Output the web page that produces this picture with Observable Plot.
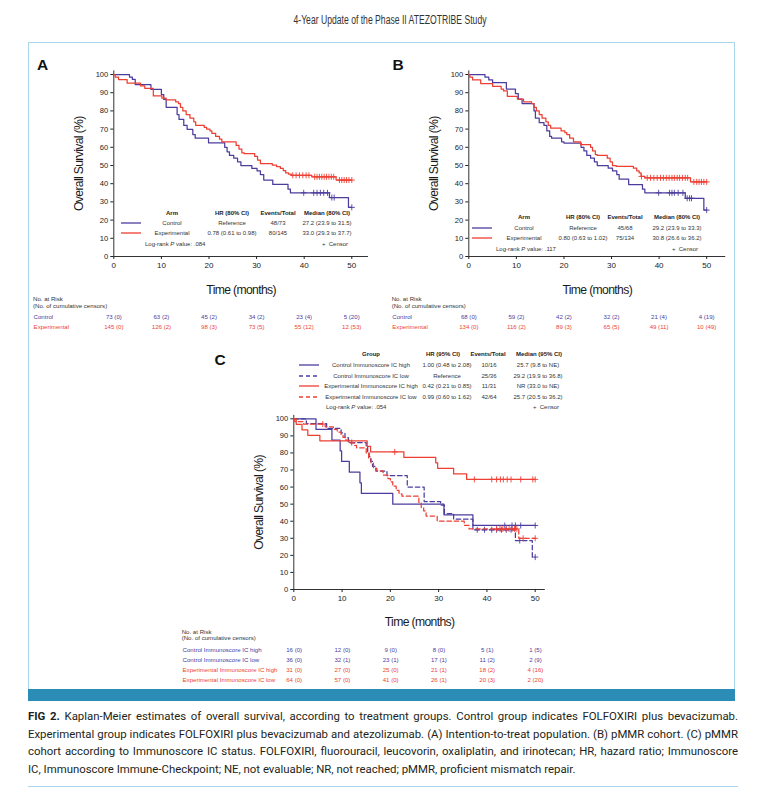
<!DOCTYPE html>
<html><head><meta charset="utf-8">
<script src="https://cdn.jsdelivr.net/npm/d3@7"></script>
<script src="https://cdn.jsdelivr.net/npm/@observablehq/plot@0.6"></script>
<style>
body{margin:0;background:#fff;}
#page{position:relative;width:780px;height:800px;overflow:hidden;font-family:"Liberation Sans",Arial,sans-serif;color:#222;}
.t{position:absolute;white-space:nowrap;line-height:1;}
.hdr{font-family:"Liberation Sans",Arial,sans-serif;font-weight:bold;font-size:6px;color:#222;}
.leg{font-size:6px;color:#333;}
.risk{font-size:6.1px;color:#333;}
.letter{font-weight:bold;font-size:15.5px;color:#111;font-family:"Liberation Sans",Arial,sans-serif;}
.title{font-family:"Liberation Sans",Arial,sans-serif;font-size:12px;color:#333;}
.caption{position:absolute;left:28px;width:710px;font-family:Roboto,"Noto Sans",sans-serif;font-size:11.4px;line-height:17.6px;color:#231f20;}
.caption div{white-space:nowrap;text-align:justify;text-align-last:justify;}
.caption div.last{text-align-last:left;}
g[aria-label="x-axis label"] text, g[aria-label="y-axis label"] text{font-family:"Liberation Sans",Arial,sans-serif;font-size:12.2px;letter-spacing:-0.65px;fill:#1a1a1a;}
svg{overflow:visible;}
</style></head>
<body><div id="page"></div>
<script>
// ---------------- DATA ----------------
const xTicks = [0, 10, 20, 30, 40, 50];
const yTicks = [0, 10, 20, 30, 40, 50, 60, 70, 80, 90, 100];
const riskTimes = [0, 10, 20, 30, 40, 50];
const BLUE = "#4b3d9e", RED = "#ee3f33";

// Panel A (ITT) : [time (months), survival (%)] step points
const aControl = [[0,100],[3.3,98.6],[3.9,97.3],[4.5,94.5],[7.8,91.8],[10.0,89.0],[10.5,86.3],[11.0,82.0],[13.3,78.0],[13.7,75.3],[14.7,72.0],[15.4,69.9],[16.6,67.0],[17.1,65.0],[19.9,62.5],[23.3,60.0],[23.8,57.5],[24.3,55.5],[25.2,54.0],[26.0,52.0],[26.7,50.0],[29.0,48.4],[30.1,47.0],[30.8,45.0],[31.5,42.0],[33.4,39.6],[36.6,37.0],[37.1,35.0],[45.3,32.4],[49.3,27.0],[50,27.0]];
const aControlCensor = [39.9, 42.0, 42.7, 43.4, 44.1, 44.9, 45.8, 46.3, 50];
const aExper = [[0,100],[0.3,98.6],[1.0,97.2],[2.8,95.2],[5.6,93.8],[6.5,92.4],[8.3,88.2],[10.1,87.0],[11.0,86.0],[13.0,85.0],[13.6,84.0],[14.0,82.0],[14.5,80.0],[15.2,78.0],[16.0,76.0],[16.8,74.0],[17.2,72.0],[19.0,71.0],[19.5,70.0],[20.2,69.0],[20.6,67.6],[21.4,66.0],[22.2,64.5],[22.7,63.0],[25.7,61.0],[26.3,59.0],[26.9,57.0],[27.4,56.5],[29.6,55.0],[30.2,53.0],[30.8,51.0],[33.3,50.2],[34.2,49.4],[35.0,48.4],[35.6,47.2],[36.1,46.0],[36.7,45.2],[37.3,44.6],[41.6,43.8],[46.7,42.0],[50,42.0]];
const aExperCensor = [37.6, 38.3, 39.0, 39.7, 40.4, 41.0, 42.2, 42.7, 43.2, 43.7, 44.2, 44.7, 45.2, 45.7, 46.2, 47.4, 47.9, 48.4, 48.9, 49.4, 50];

// Panel B (pMMR)
const bControl = [[0,100],[3.4,98.5],[4.2,97.0],[5.0,95.5],[7.9,92.0],[9.8,89.5],[10.4,86.5],[11.2,84.0],[13.7,80.0],[14.0,76.0],[14.8,73.5],[15.8,72.0],[16.4,69.0],[17.0,66.0],[17.4,65.0],[19.5,63.0],[20.0,62.3],[23.6,60.0],[24.2,58.0],[24.8,55.5],[25.6,54.0],[26.4,52.0],[27.0,50.0],[29.3,48.5],[30.2,47.0],[31.1,45.0],[31.6,42.5],[33.6,39.5],[36.5,37.0],[37.0,35.0],[45.5,32.0],[49.4,25.5],[50,25.5]];
const bControlCensor = [39.9, 42.2, 42.7, 43.2, 44.0, 45.0, 45.9, 46.4, 46.8, 50];
const bExper = [[0,100],[0.2,98.5],[0.8,97.0],[2.5,95.0],[5.0,93.5],[6.8,92.0],[7.3,91.0],[8.1,88.0],[10.2,86.5],[11.5,85.0],[13.2,84.0],[13.7,82.0],[14.2,80.0],[14.8,78.0],[15.4,76.0],[16.2,74.0],[16.7,72.0],[17.2,70.5],[19.4,69.0],[20.2,68.0],[20.6,67.0],[21.2,65.0],[22.0,63.0],[23.5,61.5],[25.6,60.0],[26.0,58.0],[26.6,56.0],[27.0,55.5],[29.1,54.0],[29.7,52.0],[30.2,50.0],[31.0,49.5],[34.6,48.5],[35.3,47.0],[35.8,46.0],[36.2,44.0],[37.0,43.2],[46.6,41.0],[50,41.0]];
const bExperCensor = [36.3, 37.5, 38.2, 38.9, 39.6, 40.3, 40.9, 41.5, 42.1, 42.7, 43.2, 43.8, 44.3, 44.9, 45.5, 46.0, 47.3, 47.9, 48.4, 48.9, 49.4, 50];

// Panel C (pMMR by Immunoscore IC)
const cCtrlHigh = [[0,100],[4.6,93.75],[7.9,87.5],[9.6,81.25],[9.9,75],[11.5,68.75],[13.7,62.5],[14.0,56.25],[20.5,50],[31.1,43.75],[37.1,37.5],[50,37.5]];
const cCtrlHighCensor = [43.7, 45.2, 45.9, 47.0, 50];
const cCtrlLow = [[0,100],[2.6,97.2],[6.8,94.4],[9.8,91.7],[10.6,88.9],[11.3,86.1],[15.0,83.3],[15.3,80.6],[15.6,77.8],[15.9,75.0],[16.3,72.2],[17.0,69.4],[19.3,66.7],[23.5,60.0],[27.0,51.5],[30.4,49.5],[31.2,44.5],[33.1,41.2],[37.1,35.0],[45.9,28.7],[49.4,19.0],[50,19.0]];
const cCtrlLowCensor = [12.0, 38.0, 39.5, 41.0, 42.0, 43.0, 44.0, 45.0, 46.8, 50];
const cExpHigh = [[0,100],[0.5,96.8],[1.7,93.5],[2.9,90.3],[5.4,87.1],[15.2,83.9],[15.9,80.6],[22.8,77.4],[29.4,74.2],[29.8,71.0],[33.1,67.7],[35.8,64.5],[50,64.5]];
const cExpHighCensor = [20.9, 37.4, 41.0, 42.0, 42.8, 43.4, 44.2, 45.0, 47.0, 49.5, 50];
const cExpLow = [[0,100],[0.2,98.4],[2.0,96.9],[6.5,95.3],[8.2,93.8],[9.0,92.2],[9.8,90.6],[10.2,89.1],[10.8,87.5],[11.5,85.9],[12.5,84.4],[13.0,83.0],[15.0,80.0],[15.5,77.0],[16.0,74.0],[16.5,71.0],[17.2,69.5],[18.5,67.0],[19.5,65.0],[20.0,63.0],[20.5,60.5],[21.2,58.0],[21.8,56.0],[22.4,54.7],[25.9,51.0],[26.4,48.0],[26.9,46.0],[27.4,43.0],[29.7,40.0],[35.3,37.5],[36.3,35.5],[46.6,30.0],[50,30.0]];
const cExpLowCensor = [6.0, 42.0, 42.7, 43.3, 44.0, 44.6, 45.2, 45.7, 46.2, 47.5, 50];

// Risk tables: number at risk and cumulative censors at riskTimes
const riskA = [
  {name: "Control", color: BLUE, n: [73, 63, 45, 34, 23, 5], c: [0, 2, 2, 2, 4, 20]},
  {name: "Experimental", color: RED, n: [145, 126, 98, 73, 55, 12], c: [0, 2, 3, 5, 12, 53]}
];
const riskB = [
  {name: "Control", color: BLUE, n: [68, 59, 42, 32, 21, 4], c: [0, 2, 2, 2, 4, 19]},
  {name: "Experimental", color: RED, n: [134, 116, 89, 65, 49, 10], c: [0, 2, 3, 5, 11, 49]}
];
const riskC = [
  {name: "Control Immunoscore IC high", color: BLUE, n: [16, 12, 9, 8, 5, 1], c: [0, 0, 0, 0, 1, 5]},
  {name: "Control Immunoscore IC low", color: BLUE, n: [36, 32, 23, 17, 11, 2], c: [0, 1, 1, 1, 2, 9]},
  {name: "Experimental Immunoscore IC high", color: RED, n: [31, 27, 25, 21, 18, 4], c: [0, 0, 0, 1, 2, 16]},
  {name: "Experimental Immunoscore IC low", color: RED, n: [64, 57, 41, 26, 20, 2], c: [0, 0, 0, 1, 3, 20]}
];

// Legend tables
const legendHeadA = ["Arm", "HR (80% CI)", "Events/Total", "Median (80% CI)"];
const legendRowsA = [["Control", "Reference", "48/73", "27.2 (23.9 to 31.5)"], ["Experimental", "0.78 (0.61 to 0.98)", "80/145", "33.0 (29.3 to 37.7)"]];
const legendHeadB = ["Arm", "HR (80% CI)", "Events/Total", "Median (80% CI)"];
const legendRowsB = [["Control", "Reference", "45/68", "29.2 (23.9 to 33.3)"], ["Experimental", "0.80 (0.63 to 1.02)", "75/134", "30.8 (26.6 to 36.2)"]];
const legendHeadC = ["Group", "HR (95% CI)", "Events/Total", "Median (95% CI)"];
const legendRowsC = [
  ["Control Immunoscore IC high", "1.00 (0.48 to 2.08)", "10/16", "25.7 (9.8 to NE)"],
  ["Control Immunoscore IC low", "Reference", "25/36", "29.2 (19.9 to 36.8)"],
  ["Experimental Immunoscore IC high", "0.42 (0.21 to 0.85)", "11/31", "NR (33.0 to NE)"],
  ["Experimental Immunoscore IC low", "0.99 (0.60 to 1.62)", "42/64", "25.7 (20.5 to 36.2)"]
];
const logRankP = {A: ".084", B: ".117", C: ".054"};

const titleText = "4-Year Update of the Phase II ATEZOTRIBE Study";
const captionLines = [
  "<b>FIG 2.</b> Kaplan-Meier estimates of overall survival, according to treatment groups. Control group indicates FOLFOXIRI plus bevacizumab.",
  "Experimental group indicates FOLFOXIRI plus bevacizumab and atezolizumab. (A) Intention-to-treat population. (B) pMMR cohort. (C) pMMR",
  "cohort according to Immunoscore IC status. FOLFOXIRI, fluorouracil, leucovorin, oxaliplatin, and irinotecan; HR, hazard ratio; Immunoscore",
  "IC, Immunoscore Immune-Checkpoint; NE, not evaluable; NR, not reached; pMMR, proficient mismatch repair."
];

// ---------------- HELPERS ----------------
const page = document.getElementById("page");
function put(el, x, y) { el.style.position = "absolute"; el.style.left = x + "px"; el.style.top = y + "px"; page.appendChild(el); return el; }
function txt(html, x, y, cls, anchor) {
  const d = document.createElement("div");
  d.className = "t " + (cls || "");
  d.innerHTML = html;
  d.style.left = x + "px"; d.style.top = y + "px";
  d.style.transform = anchor === "l" ? "translate(0,-50%)" : "translate(-50%,-50%)";
  page.appendChild(d);
  return d;
}
function box(x, y, w, h, css) { const d = document.createElement("div"); d.style.cssText = `position:absolute;left:${x}px;top:${y}px;width:${w}px;height:${h}px;${css}`; page.appendChild(d); }
function swatch(x1, x2, y, color, dashed) {
  const ns = "http://www.w3.org/2000/svg";
  const s = document.createElementNS(ns, "svg");
  s.setAttribute("width", x2 - x1); s.setAttribute("height", 4);
  s.style.cssText = `position:absolute;left:${x1}px;top:${y - 2}px;`;
  const l = document.createElementNS(ns, "line");
  l.setAttribute("x1", 0); l.setAttribute("x2", x2 - x1); l.setAttribute("y1", 2); l.setAttribute("y2", 2);
  l.setAttribute("stroke", color); l.setAttribute("stroke-width", 1.3);
  if (dashed) l.setAttribute("stroke-dasharray", "4,3");
  s.appendChild(l); page.appendChild(s);
}
function survAt(steps, t) { let v = steps[0][1]; for (const [tt, s] of steps) { if (tt <= t) v = s; else break; } return v; }
const plotStyle = {background: "transparent", fontFamily: "'Liberation Sans', Arial, sans-serif", color: "#222", overflow: "visible"};

function kmPanel({left, top, width, height, x0, x50, xMax, y0, y100, yMax, series, xLabelOffset, yLabelOffset}) {
  const kx = (x50 - x0) / 50, ky = (y0 - y100) / 100;
  const marginLeft = x0 - left;
  const marginRight = left + width - (x0 + kx * xMax);
  const marginTop = (y0 - ky * yMax) - top;
  const marginBottom = top + height - y0;
  const marks = [
    Plot.ruleY([0], {stroke: "#333", strokeWidth: 1}),
    Plot.ruleX([0], {stroke: "#333", strokeWidth: 1}),
    Plot.axisX({ticks: xTicks, tickSize: 3, tickPadding: 2.5, fontSize: 8, label: "Time (months)", labelAnchor: "center", labelArrow: "none", labelOffset: xLabelOffset}),
    Plot.axisY({ticks: yTicks, tickSize: 3, tickPadding: 2.5, fontSize: 7.6, label: "Overall Survival (%)", labelAnchor: "center", labelArrow: "none", labelOffset: yLabelOffset})
  ];
  for (const s of series) {
    const lineOpts = {x: d => d[0], y: d => d[1], curve: "step-after", stroke: s.color, strokeWidth: 1.25};
    if (s.dash) lineOpts.strokeDasharray = "4.5,2.8";
    marks.push(Plot.line(s.steps, lineOpts));
    marks.push(Plot.dot(s.censors, {x: t => t, y: t => survAt(s.steps, t), symbol: "plus", r: 2.1, stroke: s.color, strokeWidth: 0.9}));
  }
  const svg = Plot.plot({width, height, marginLeft, marginRight, marginTop, marginBottom,
    x: {domain: [0, xMax]}, y: {domain: [0, yMax]}, style: plotStyle, marks});
  put(svg, left, top);
}

function riskPanel({left, width, rowY0, rowH, x0, x50, xMax, labelX, rows}) {
  const kx = (x50 - x0) / 50;
  const L = Math.min(left, labelX - 2);
  const W = left + width - L;
  const marginLeft = x0 - L;
  const marginRight = L + W - (x0 + kx * xMax);
  const names = rows.map(r => r.name);
  const cells = rows.flatMap(r => riskTimes.map((t, i) => ({t, name: r.name, text: `${r.n[i]} (${r.c[i]})`})));
  const svg = Plot.plot({width: W, height: rowH * rows.length, marginLeft, marginRight, marginTop: 0, marginBottom: 0,
    x: {domain: [0, xMax], axis: null},
    y: {type: "point", domain: names, padding: 0.5, axis: null},
    color: {domain: names, range: rows.map(r => r.color)},
    style: plotStyle,
    marks: [
      Plot.text(cells, {x: "t", y: "name", text: "text", fill: "name", fontSize: 6.1}),
      Plot.text(names, {y: d => d, text: d => d, fill: d => d, frameAnchor: "left", textAnchor: "start", dx: labelX - x0, fontSize: 6.1})
    ]});
  put(svg, L, rowY0 - rowH / 2);
}

function legendBlock({cols, rowCols, hdrY, rowYs, logY, logX, censorX, sw, head, rows, colors, dashes, p}) {
  head.forEach((h, i) => txt(h, cols[i], hdrY, "hdr"));
  rows.forEach((r, j) => {
    swatch(sw[0], sw[1], rowYs[j], colors[j], dashes[j]);
    r.forEach((v, i) => txt(v, (rowCols || cols)[i], rowYs[j], "leg"));
  });
  txt(`Log-rank <i>P</i> value: ${p}`, logX, logY, "leg", "l");
  txt("+&nbsp; Censor", censorX, logY, "leg");
}

// ---------------- LAYOUT ----------------
const tEl = txt(titleText, 390, 20, "title");
const tW = tEl.getBoundingClientRect().width;
tEl.style.transform = `translate(-50%,-50%) scaleX(${(193 / tW).toFixed(3)})`;

box(28, 42, 707, 647, "border:1.3px solid #a9d6ea;border-bottom:none;box-sizing:border-box;");
box(28, 689, 707, 12, "background:#2b8db5;");
box(28, 786, 710, 1, "background:#a9d6ea;");

txt("A", 42.5, 65, "letter");
txt("B", 398, 65, "letter");
txt("C", 220, 360, "letter");

kmPanel({left: 30, top: 58, width: 345, height: 240, x0: 113.3, x50: 351.3, xMax: 53.5, y0: 256, y100: 74, yMax: 102,
  xLabelOffset: 37, yLabelOffset: 39.5,
  series: [{steps: aControl, censors: aControlCensor, color: BLUE}, {steps: aExper, censors: aExperCensor, color: RED}]});
kmPanel({left: 386, top: 58, width: 350, height: 240, x0: 468.3, x50: 706.2, xMax: 54, y0: 256, y100: 74, yMax: 102,
  xLabelOffset: 37, yLabelOffset: 39.5,
  series: [{steps: bControl, censors: bControlCensor, color: BLUE}, {steps: bExper, censors: bExperCensor, color: RED}]});
kmPanel({left: 215, top: 405, width: 340, height: 225, x0: 293.3, x50: 534.7, xMax: 52.1, y0: 589, y100: 418.3, yMax: 102,
  xLabelOffset: 36, yLabelOffset: 39.5,
  series: [
    {steps: cCtrlHigh, censors: cCtrlHighCensor, color: BLUE},
    {steps: cCtrlLow, censors: cCtrlLowCensor, color: BLUE, dash: true},
    {steps: cExpHigh, censors: cExpHighCensor, color: RED},
    {steps: cExpLow, censors: cExpLowCensor, color: RED, dash: true}
  ]});

legendBlock({cols: [172, 232, 278, 327], hdrY: 213, rowYs: [223, 233], logY: 244, logX: 145, censorX: 335, sw: [121, 141],
  head: legendHeadA, rows: legendRowsA, colors: [BLUE, RED], dashes: [false, false], p: logRankP.A});
legendBlock({cols: [524, 583, 625, 677], hdrY: 217, rowYs: [228, 238], logY: 249, logX: 496, censorX: 685, sw: [472, 492],
  head: legendHeadB, rows: legendRowsB, colors: [BLUE, RED], dashes: [false, false], p: logRankP.B});
legendBlock({cols: [371, 443, 488, 539], rowCols: [371, 447, 489, 538], hdrY: 354, rowYs: [365, 375.5, 386, 396.5], logY: 407, logX: 326, censorX: 546, sw: [299, 319],
  head: legendHeadC, rows: legendRowsC, colors: [BLUE, BLUE, RED, RED], dashes: [false, true, false, true], p: logRankP.C});

// risk tables
txt("No. at Risk", 33, 299, "risk", "l");
txt("(No. of cumulative censors)", 33, 306, "risk", "l");
riskPanel({left: 30, width: 345, rowY0: 316.7, rowH: 10.6, x0: 113.3, x50: 351.3, xMax: 53.5, labelX: 33, rows: riskA});
txt("No. at Risk", 391.7, 299, "risk", "l");
txt("(No. of cumulative censors)", 391.7, 306, "risk", "l");
riskPanel({left: 386, width: 350, rowY0: 316.7, rowH: 10.6, x0: 468.3, x50: 706.2, xMax: 54, labelX: 391.7, rows: riskB});
txt("No. at Risk", 181.7, 631.7, "risk", "l");
txt("(No. of cumulative censors)", 181.7, 638.3, "risk", "l");
riskPanel({left: 215, width: 340, rowY0: 649.3, rowH: 10.55, x0: 293.3, x50: 534.7, xMax: 52.1, labelX: 181.7, rows: riskC});

// caption
const cap = document.createElement("div");
cap.className = "caption";
cap.style.top = "708px";
cap.innerHTML = captionLines.map((l, i) => `<div class="${i === captionLines.length - 1 ? "last" : ""}">${l}</div>`).join("");
page.appendChild(cap);
</script>
</body></html>
